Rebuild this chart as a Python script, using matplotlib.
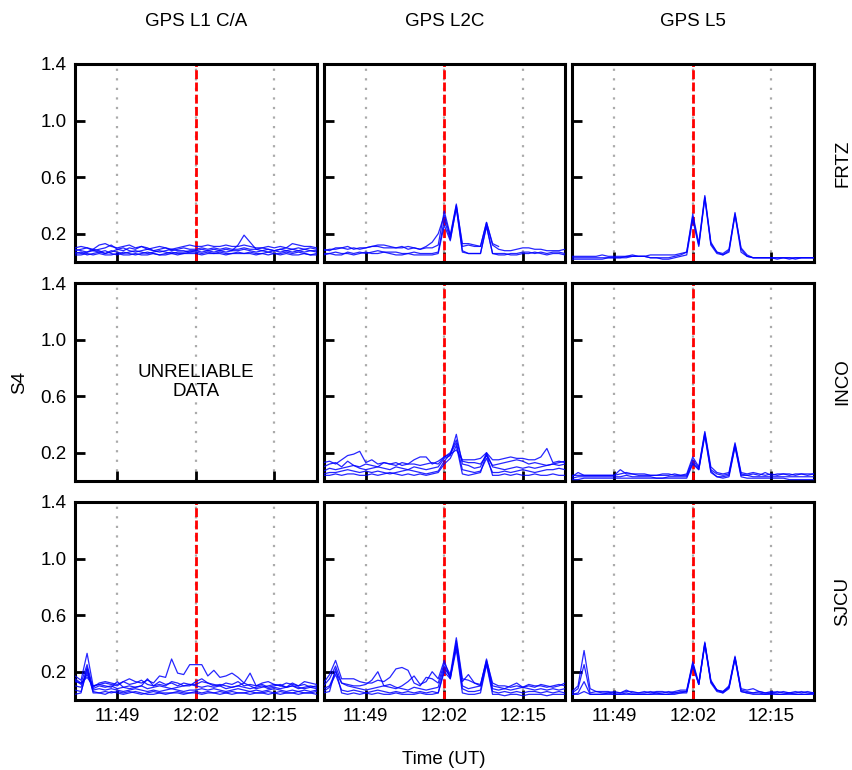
import matplotlib
matplotlib.use('Agg')
import numpy as np
import matplotlib.pyplot as plt
from matplotlib.ticker import FuncFormatter

plt.rcParams['font.family'] = ['Liberation Sans', 'DejaVu Sans']

# time in minutes after 00:00 UT, 1-min samples 11:42 .. 12:22
minutes = list(range(702, 743))
event_time = 722  # 12:02
tick_times = [709, 722, 735]

signals = ['GPS L1 C/A', 'GPS L2C', 'GPS L5']
stations = ['FRTZ', 'INCO', 'SJCU']
nan = np.nan

# S4 series, one list per satellite track
frtz_l1 = [
    [0.10,0.11,0.10,0.09,0.12,0.13,0.11,0.10,0.11,0.12,0.10,0.11,0.09,0.10,0.11,0.10,0.09,0.10,0.11,0.12,0.11,0.11,0.12,0.11,0.11,0.12,0.11,0.11,0.12,0.11,0.10,0.10,0.11,0.10,0.11,0.10,0.13,0.12,0.11,0.11,0.10],
    [0.08,0.09,0.10,0.08,0.09,0.10,0.12,0.09,0.08,0.10,0.09,0.11,0.10,0.08,0.09,0.10,0.08,0.09,0.10,0.09,0.09,0.10,0.09,0.10,0.09,0.10,0.09,0.09,0.10,0.09,0.09,0.10,0.09,0.08,0.09,0.10,0.09,0.08,0.09,0.10,0.09],
    [0.07,0.06,0.07,0.08,0.07,0.06,0.08,0.07,0.06,0.07,0.08,0.07,0.06,0.07,0.08,0.07,0.06,0.07,0.07,0.08,0.08,0.07,0.08,0.07,0.08,0.07,0.08,0.08,0.09,0.08,0.07,0.08,0.07,0.08,0.07,0.08,0.07,0.08,0.07,0.08,0.07],
    [0.05,0.05,0.06,0.05,0.06,0.05,0.05,0.06,0.05,0.05,0.06,0.05,0.05,0.06,0.05,0.05,0.06,0.05,0.06,0.06,0.06,0.05,0.06,0.06,0.06,0.05,0.06,0.06,0.06,0.06,0.05,0.06,0.05,0.06,0.05,0.06,0.05,0.05,0.06,0.05,0.05],
    [0.09,0.08,0.07,0.09,0.08,0.06,0.07,0.09,0.10,0.08,0.07,0.08,0.09,0.08,0.07,0.08,0.09,0.08,0.08,0.07,0.08,0.09,0.08,0.09,0.08,0.09,0.08,0.12,0.19,0.14,0.09,0.08,0.09,0.08,0.09,0.08,0.09,0.10,0.09,0.08,0.08],
    [0.06,0.07,0.05,0.06,0.07,0.08,0.06,0.05,0.07,0.06,0.05,0.06,0.07,0.06,0.05,0.06,0.07,0.06,0.06,0.07,0.07,0.06,0.07,0.06,0.07,0.06,0.06,0.07,0.06,0.07,0.06,0.06,0.07,0.06,0.06,0.07,0.06,0.07,0.06,0.05,0.06],
]
frtz_l2c = [
    [0.08,0.09,0.09,0.10,0.11,0.09,0.10,0.10,0.11,0.12,0.12,0.11,0.10,0.10,0.11,0.10,0.09,0.11,0.14,0.20,0.33,0.18,0.40,0.13,0.13,0.12,0.11,0.28,0.12,0.09,0.08,0.08,0.09,0.10,0.10,0.09,0.09,0.08,0.08,0.08,0.09],
    [0.09,0.08,0.10,0.10,0.09,0.10,0.09,0.10,0.11,0.11,0.10,0.10,0.10,0.11,0.09,0.10,0.09,0.10,0.10,0.12,0.36,0.19,0.41,0.11,0.12,0.11,0.11,0.28,0.13,0.11,nan,nan,nan,nan,nan,nan,nan,nan,nan,nan,nan],
    [0.05,0.06,0.05,0.05,0.07,0.06,0.07,0.06,0.07,0.08,0.07,0.06,0.05,0.05,0.06,0.05,0.05,0.05,0.05,0.06,0.26,0.15,0.39,0.08,0.06,0.06,0.06,0.26,0.06,0.06,0.06,0.05,0.05,0.06,0.06,0.07,0.06,0.05,0.06,0.06,0.05],
    [0.06,0.06,0.07,0.06,0.06,0.05,0.06,0.07,0.06,0.06,0.07,0.07,0.07,0.06,0.06,0.07,0.06,0.06,0.06,0.07,0.30,0.16,0.38,0.07,0.06,0.06,0.06,0.25,0.06,0.05,0.05,0.06,0.06,0.07,0.07,0.06,0.07,0.06,0.07,0.07,0.06],
]
frtz_l5 = [
    [0.04,0.04,0.04,0.04,0.04,0.05,0.04,0.04,0.04,0.04,0.05,0.04,0.04,0.05,0.05,0.05,0.05,0.05,0.06,0.07,0.34,0.13,0.47,0.14,0.07,0.05,0.08,0.35,0.09,0.04,0.03,0.03,0.03,0.03,0.03,0.03,0.03,0.03,0.03,0.03,0.03],
    [0.03,0.03,0.03,0.03,0.03,0.03,0.03,0.03,0.03,0.04,0.04,0.04,0.04,0.03,0.03,0.03,0.03,0.04,0.05,0.07,0.32,0.12,0.46,0.13,0.07,0.06,0.09,0.34,0.10,0.05,0.03,0.03,0.03,0.03,0.02,0.03,0.03,0.02,0.03,0.03,0.03],
    [0.02,0.02,0.02,0.02,0.02,0.02,0.03,0.03,0.03,0.03,0.04,0.04,0.04,0.03,0.03,0.02,0.02,0.03,0.04,0.05,0.30,0.11,0.45,0.12,0.06,0.05,0.07,0.33,0.07,0.04,0.03,0.03,0.03,0.03,0.03,0.03,0.02,0.03,0.03,0.03,0.03],
]
inco_l1 = []  # unreliable data
inco_l2c = [
    [0.13,0.14,0.12,0.15,0.18,0.19,0.21,0.13,0.15,0.12,0.13,0.12,0.11,0.13,0.12,0.15,0.17,0.17,0.12,0.14,0.17,0.19,0.22,0.15,0.15,0.15,0.16,0.20,0.15,0.15,0.16,0.17,0.16,0.16,0.15,0.15,0.17,0.23,0.13,0.14,0.13],
    [0.10,0.12,0.13,0.10,0.14,0.11,0.10,0.12,0.11,0.10,0.13,0.12,0.13,0.11,0.12,0.12,0.11,0.12,0.13,0.12,0.17,0.20,0.29,0.14,0.13,0.13,0.12,0.18,0.11,0.12,0.13,0.14,0.15,0.14,0.12,0.13,0.12,0.11,0.12,0.13,0.14],
    [0.07,0.09,0.08,0.09,0.10,0.11,0.09,0.08,0.09,0.10,0.09,0.08,0.10,0.09,0.08,0.10,0.09,0.08,0.09,0.10,0.16,0.18,0.33,0.12,0.11,0.09,0.10,0.20,0.10,0.09,0.08,0.09,0.10,0.09,0.10,0.09,0.10,0.11,0.12,0.11,0.12],
    [0.05,0.06,0.06,0.07,0.08,0.07,0.06,0.07,0.06,0.07,0.06,0.05,0.06,0.07,0.08,0.07,0.06,0.05,0.06,0.07,0.14,0.19,0.27,0.08,0.07,0.06,0.07,0.16,0.06,0.06,0.07,0.06,0.07,0.08,0.07,0.06,0.07,0.08,0.08,0.09,0.08],
    [0.04,0.04,0.05,0.04,0.05,0.05,0.04,0.04,0.05,0.04,0.05,0.06,0.05,0.04,0.05,0.04,0.05,0.04,0.05,0.06,0.12,0.16,0.25,0.05,0.04,0.05,0.06,0.19,0.04,0.04,0.05,0.04,0.05,0.04,0.04,0.05,0.04,0.04,0.05,0.04,0.04],
]
inco_l5 = [
    [0.03,0.06,0.04,0.04,0.04,0.04,0.04,0.04,0.08,0.05,0.05,0.04,0.04,0.04,0.04,0.04,0.04,0.05,0.04,0.05,0.17,0.10,0.35,0.10,0.06,0.05,0.06,0.27,0.06,0.05,0.06,0.05,0.04,0.05,0.04,0.05,0.05,0.04,0.05,0.04,0.05],
    [0.04,0.04,0.04,0.04,0.04,0.04,0.04,0.04,0.05,0.06,0.05,0.05,0.05,0.04,0.04,0.05,0.05,0.04,0.04,0.04,0.15,0.09,0.34,0.08,0.05,0.04,0.05,0.26,0.05,0.04,0.05,0.04,0.06,0.04,0.05,0.05,0.04,0.05,0.05,0.05,0.05],
    [0.02,0.03,0.03,0.03,0.03,0.03,0.03,0.03,0.03,0.04,0.03,0.03,0.03,0.03,0.02,0.02,0.03,0.03,0.03,0.03,0.13,0.08,0.33,0.07,0.03,0.03,0.04,0.25,0.04,0.04,0.03,0.03,0.03,0.03,0.03,0.03,0.03,0.03,0.03,0.03,0.03],
    [0.01,0.01,0.02,0.02,0.02,0.02,0.02,0.02,0.02,0.02,0.02,0.02,0.02,0.02,0.02,0.02,0.02,0.02,0.02,0.02,0.12,0.08,0.32,0.06,0.03,0.02,0.03,0.24,0.03,0.02,0.02,0.02,0.02,0.02,0.02,0.02,0.01,0.01,0.01,0.01,0.01],
]
sjcu_l1 = [
    [0.13,0.12,0.16,0.10,0.11,0.12,0.11,0.10,0.13,0.15,0.13,0.12,0.14,0.12,0.17,0.16,0.29,0.19,0.18,0.25,0.25,0.25,0.17,0.21,0.16,0.17,0.19,0.16,0.12,0.19,0.10,0.11,0.09,0.10,0.11,0.09,0.12,0.10,0.11,0.09,0.10],
    [0.17,0.14,0.33,0.10,0.11,0.10,0.09,0.13,0.09,0.10,0.09,0.10,0.15,0.10,0.11,0.10,0.13,0.12,0.10,0.10,0.13,0.15,0.12,0.10,0.11,0.10,0.09,0.10,0.12,0.10,0.08,0.09,0.10,0.11,0.10,0.09,0.10,0.08,0.09,0.10,0.09],
    [0.15,0.12,0.25,0.08,0.10,0.09,0.10,0.08,0.09,0.08,0.09,0.10,0.08,0.09,0.10,0.09,0.08,0.09,0.10,0.11,0.10,0.09,0.10,0.09,0.10,0.08,0.09,0.10,0.09,0.08,0.09,0.10,0.08,0.09,0.08,0.09,0.10,0.09,0.08,0.09,0.08],
    [0.10,0.09,0.22,0.07,0.08,0.07,0.08,0.07,0.06,0.07,0.08,0.07,0.06,0.07,0.06,0.07,0.08,0.07,0.06,0.07,0.07,0.08,0.07,0.08,0.07,0.06,0.07,0.08,0.07,0.06,0.07,0.06,0.07,0.08,0.07,0.06,0.07,0.06,0.07,0.06,0.07],
    [0.07,0.06,0.20,0.06,0.05,0.06,0.05,0.06,0.05,0.06,0.05,0.04,0.05,0.06,0.05,0.05,0.05,0.06,0.05,0.05,0.06,0.05,0.06,0.05,0.06,0.05,0.06,0.05,0.05,0.06,0.05,0.05,0.06,0.05,0.06,0.05,0.05,0.06,0.05,0.05,0.06],
    [0.14,0.11,0.18,0.09,0.12,0.13,0.12,0.11,0.13,0.11,0.12,0.14,0.11,0.10,0.13,0.11,0.12,0.10,0.12,0.11,0.11,0.13,0.12,0.11,0.10,0.12,0.11,0.13,0.10,0.11,0.10,0.12,0.13,0.11,0.10,0.12,0.11,0.10,0.13,0.12,0.11],
    [0.04,0.05,0.23,0.05,0.05,0.04,0.06,0.05,0.04,0.05,0.06,0.05,0.04,0.04,0.05,0.04,0.05,0.05,0.04,0.05,0.05,0.04,0.05,0.05,0.04,0.05,0.04,0.05,0.05,0.04,0.05,0.05,0.04,0.05,0.04,0.05,0.05,0.04,0.05,0.05,0.04],
]
sjcu_l2c = [
    [0.12,0.18,0.28,0.15,0.15,0.15,0.13,0.12,0.12,0.14,0.13,0.16,0.22,0.23,0.21,0.12,0.10,0.16,0.15,0.12,0.26,0.18,0.44,0.15,0.14,0.12,0.11,0.28,0.12,0.10,0.10,0.09,0.10,0.09,0.11,0.10,0.10,0.09,0.10,0.11,0.10],
    [0.10,0.15,0.24,0.12,0.11,0.10,0.10,0.11,0.14,0.20,0.10,0.09,0.08,0.10,0.13,0.17,0.11,0.13,0.20,0.15,0.28,0.15,0.42,0.13,0.18,0.12,0.10,0.29,0.10,0.09,0.08,0.10,0.12,0.09,0.10,0.09,0.11,0.10,0.09,0.10,0.12],
    [0.08,0.10,0.20,0.12,0.10,0.09,0.08,0.07,0.08,0.09,0.10,0.11,0.09,0.08,0.07,0.09,0.08,0.07,0.08,0.09,0.24,0.16,0.40,0.10,0.08,0.09,0.10,0.27,0.08,0.07,0.08,0.07,0.08,0.09,0.08,0.07,0.08,0.07,0.08,0.07,0.08],
    [0.06,0.09,0.18,0.07,0.06,0.07,0.06,0.05,0.06,0.07,0.06,0.05,0.06,0.05,0.06,0.05,0.06,0.05,0.06,0.05,0.22,0.17,0.38,0.08,0.06,0.06,0.07,0.26,0.06,0.05,0.06,0.05,0.06,0.05,0.06,0.06,0.05,0.06,0.05,0.06,0.05],
    [0.05,0.06,0.22,0.05,0.04,0.05,0.04,0.05,0.04,0.05,0.04,0.04,0.05,0.04,0.04,0.04,0.05,0.04,0.04,0.05,0.20,0.15,0.36,0.05,0.04,0.04,0.05,0.25,0.04,0.04,0.03,0.04,0.04,0.03,0.04,0.04,0.04,0.03,0.04,0.04,0.04],
]
sjcu_l5 = [
    [0.06,0.10,0.35,0.08,0.06,0.06,0.06,0.05,0.05,0.06,0.06,0.05,0.06,0.05,0.06,0.06,0.05,0.06,0.07,0.07,0.27,0.12,0.41,0.14,0.07,0.06,0.10,0.31,0.07,0.06,0.05,0.06,0.05,0.06,0.05,0.06,0.05,0.06,0.05,0.06,0.05],
    [0.05,0.08,0.25,0.05,0.06,0.05,0.05,0.06,0.05,0.07,0.05,0.05,0.05,0.06,0.05,0.05,0.06,0.05,0.06,0.06,0.26,0.11,0.40,0.13,0.07,0.06,0.09,0.30,0.08,0.07,0.08,0.06,0.05,0.05,0.06,0.05,0.05,0.05,0.06,0.05,0.05],
    [0.04,0.05,0.13,0.04,0.04,0.04,0.05,0.04,0.04,0.05,0.04,0.04,0.04,0.04,0.05,0.04,0.04,0.05,0.05,0.06,0.25,0.11,0.40,0.13,0.07,0.05,0.09,0.30,0.06,0.05,0.05,0.05,0.04,0.05,0.04,0.04,0.05,0.04,0.04,0.04,0.05],
    [0.04,0.04,0.06,0.04,0.04,0.04,0.04,0.04,0.04,0.04,0.04,0.04,0.04,0.04,0.04,0.04,0.04,0.04,0.05,0.05,0.24,0.11,0.39,0.12,0.06,0.05,0.08,0.29,0.06,0.05,0.04,0.04,0.04,0.04,0.04,0.04,0.04,0.04,0.04,0.04,0.04],
]

panels = [
    [frtz_l1, frtz_l2c, frtz_l5],
    [inco_l1, inco_l2c, inco_l5],
    [sjcu_l1, sjcu_l2c, sjcu_l5],
]

W, H = 852, 770
fig = plt.figure(figsize=(W / 100, H / 100), dpi=100)

col_left = [75, 323.5, 572]
col_w = 241.5
row_top = [64, 283, 502]
row_h = 198
fs = 13.5


def fmt_time(v, pos):
    v = int(round(v))
    return f"{v // 60}:{v % 60:02d}"


for r in range(3):
    for c in range(3):
        ax = fig.add_axes([col_left[c] / W, 1 - (row_top[r] + row_h) / H, col_w / W, row_h / H])
        for s in panels[r][c]:
            ax.plot(minutes, s, color='#0000ff', lw=0.9, alpha=0.85, zorder=3)
        # grid at tick times, red dashed line at event onset
        for t in tick_times:
            ax.axvline(t, color='#aaaaaa', lw=1.6, ls=(0, (1, 3.3)), zorder=1)
        if panels[r][c]:
            ax.axvline(event_time, color='#ff0000', lw=2.0, ls=(0, (3.2, 1.2)), zorder=2)
        else:
            ax.text(0.5, 0.5, 'UNRELIABLE\nDATA', transform=ax.transAxes,
                    ha='center', va='center', fontsize=fs, linespacing=1.1)
        ax.set_xlim(minutes[0], minutes[-1])
        ax.set_ylim(0, 1.4)
        ax.set_xticks(tick_times)
        ax.set_yticks([0.2, 0.6, 1.0, 1.4])
        ax.xaxis.set_major_formatter(FuncFormatter(fmt_time))
        ax.tick_params(direction='in', length=7, width=2, labelsize=fs,
                       top=False, right=False, pad=6)
        for sp in ax.spines.values():
            sp.set_linewidth(2.2)
        if c != 0:
            ax.tick_params(labelleft=False)
        if r != 2:
            ax.tick_params(labelbottom=False)
        if r == 0:
            fig.text((col_left[c] + col_w / 2) / W, 1 - 22 / H, signals[c],
                     ha='center', va='center', fontsize=fs)
        if c == 2:
            fig.text(843 / W, 1 - (row_top[r] + row_h / 2) / H, stations[r],
                     ha='center', va='center', rotation=90, fontsize=fs)

fig.text(20 / W, 1 - 382 / H, 'S4', ha='center', va='center', rotation=90, fontsize=fs)
fig.text(444 / W, 1 - 759 / H, 'Time (UT)', ha='center', va='center', fontsize=fs)

fig.savefig('out.png', dpi=100)
